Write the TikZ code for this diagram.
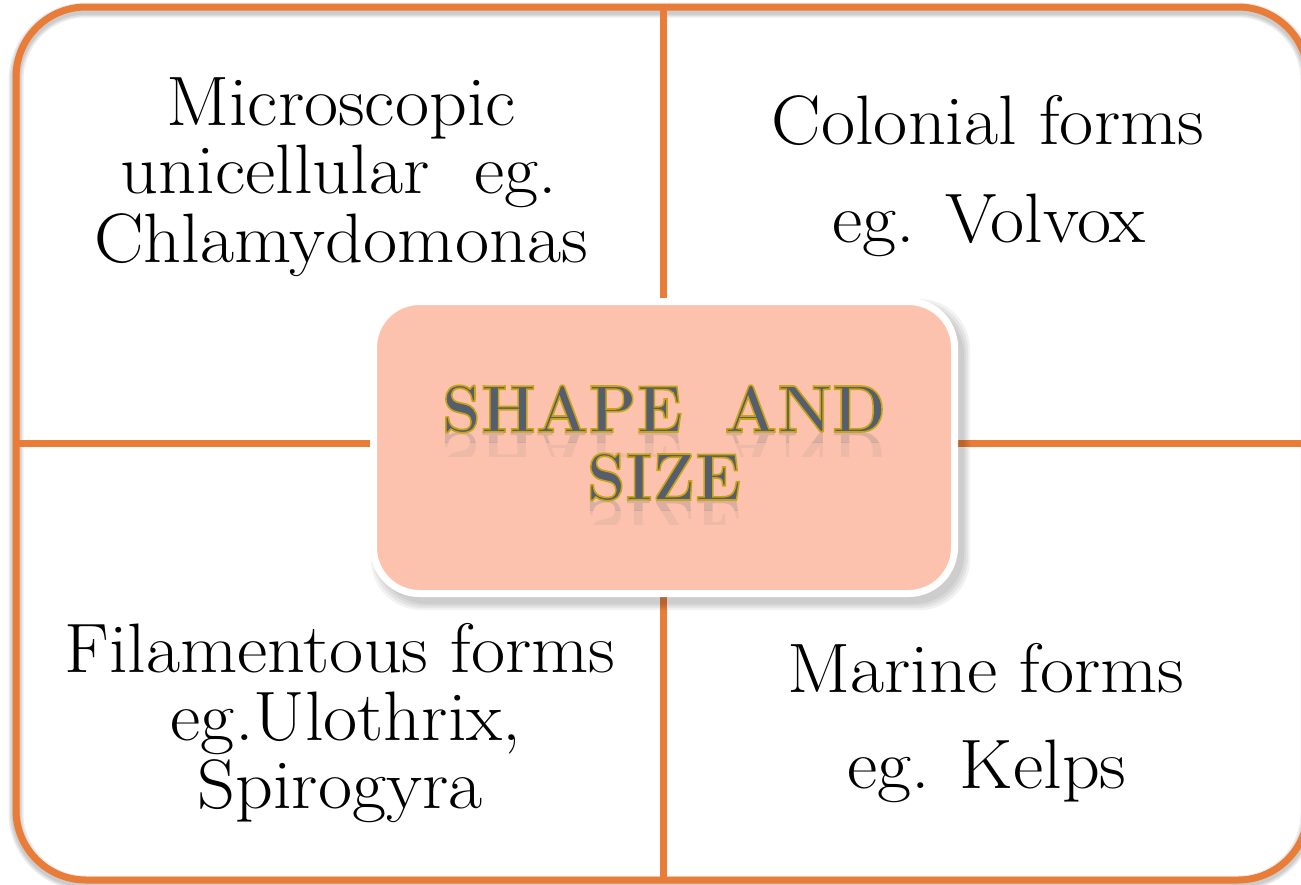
\documentclass[tikz,border=0pt]{standalone}
\usepackage{fontspec}
\usepackage{graphicx}
\definecolor{frameor}{HTML}{E97C37}
\definecolor{boxfill}{HTML}{FCC2AE}
\definecolor{titlegrey}{HTML}{545E6E}
\newfontfamily\titleface{lmroman10-bold}[Extension=.otf, FakeBold=2.5]
\newfontfamily\titleplain{lmroman10-bold}[Extension=.otf]
\newcommand{\qfont}{\fontsize{70}{70}\selectfont}
\newcommand{\qs}[1]{\scalebox{1.06}[1]{#1}}
\newcommand{\goldstroke}{\special{pdf:literal direct 0.788 0.643 0.071 RG}}
\newcommand{\titleline}[4]{%
  \foreach \a/\b/\o in {0/10/0.2, 10/24/0.08}{%
    \begin{scope}
      \clip (#2-300,#3+\a) rectangle (#2+300,#3+\b);
      \node[anchor=base, inner sep=0pt, opacity=\o, text=titlegrey] at (#2,#3) {\scalebox{0.91}[-1]{\fontsize{67}{67}\titleplain #4}};
    \end{scope}}%
  \node[anchor=base, inner sep=0pt, text=titlegrey] (#1) at (#2,#3) {\scalebox{0.91}[1]{\fontsize{67}{67}\titleface\goldstroke #4}};%
}
\begin{document}
\begin{tikzpicture}[x=1pt,y=-1pt,
  qtext/.style={anchor=base,inner sep=0pt,font=\qfont,text=black},
  frameline/.style={draw=frameor,line width=7pt},
  frameshadow/.style={draw=black,line width=#1,opacity=0.07},
  centrebox/.style={draw=white,line width=7pt,fill=boxfill,rounded corners=46pt,
    minimum width=581pt,minimum height=292pt,inner sep=0pt}]
\useasboundingbox (0,0) rectangle (1301,884);
\fill[white] (0,0) rectangle (1301,884);
% frame shadow
\foreach \w in {9,12,15}{
  \draw[frameshadow=\w pt, rounded corners=70pt] (16,10) rectangle (1308,883);}
% frame
\coordinate (ftop) at (663,7);
\coordinate (fbot) at (663,880);
\coordinate (fleft) at (16,443);
\coordinate (fright) at (1308,443);
\draw[frameline, rounded corners=70pt] (16,7) rectangle (1308,880);
\draw[frameline] (ftop) -- (fbot);
\draw[frameline] (fleft) -- (fright);
% quadrant texts
\node[qtext] (tl1) at (341,125) {\qs{Microscopic}};
\node[qtext] (tl2) at (339,193) {\qs{unicellular~ eg.}};
\node[qtext] (tl3) at (341,262) {\qs{Chlamydomonas}};
\node[qtext] (tr1) at (988,144) {\qs{Colonial forms}};
\node[qtext] (tr2) at (989,242) {\qs{eg. Volvox}};
\node[qtext] (bl1) at (340,672) {\qs{Filamentous forms}};
\node[qtext] (bl2) at (346,740) {\qs{eg.Ulothrix,}};
\node[qtext] (bl3) at (340,808) {\qs{Spirogyra}};
\node[qtext] (br1) at (986,692) {\qs{Marine forms}};
\node[qtext] (br2) at (987,788) {\qs{eg. Kelps}};
% centre box shadow
\foreach \k in {0,2,4,6}{
  \fill[black,opacity=0.05,rounded corners=50pt] (377-\k,305-\k) rectangle (964+\k,604+\k);}
\node[centrebox] (box) at (664,447.5) {};
% title
\titleline{t1}{664}{432}{SHAPE\hspace{0.3em} AND}
\titleline{t2}{664}{500}{SIZE}
\end{tikzpicture}
\end{document}
